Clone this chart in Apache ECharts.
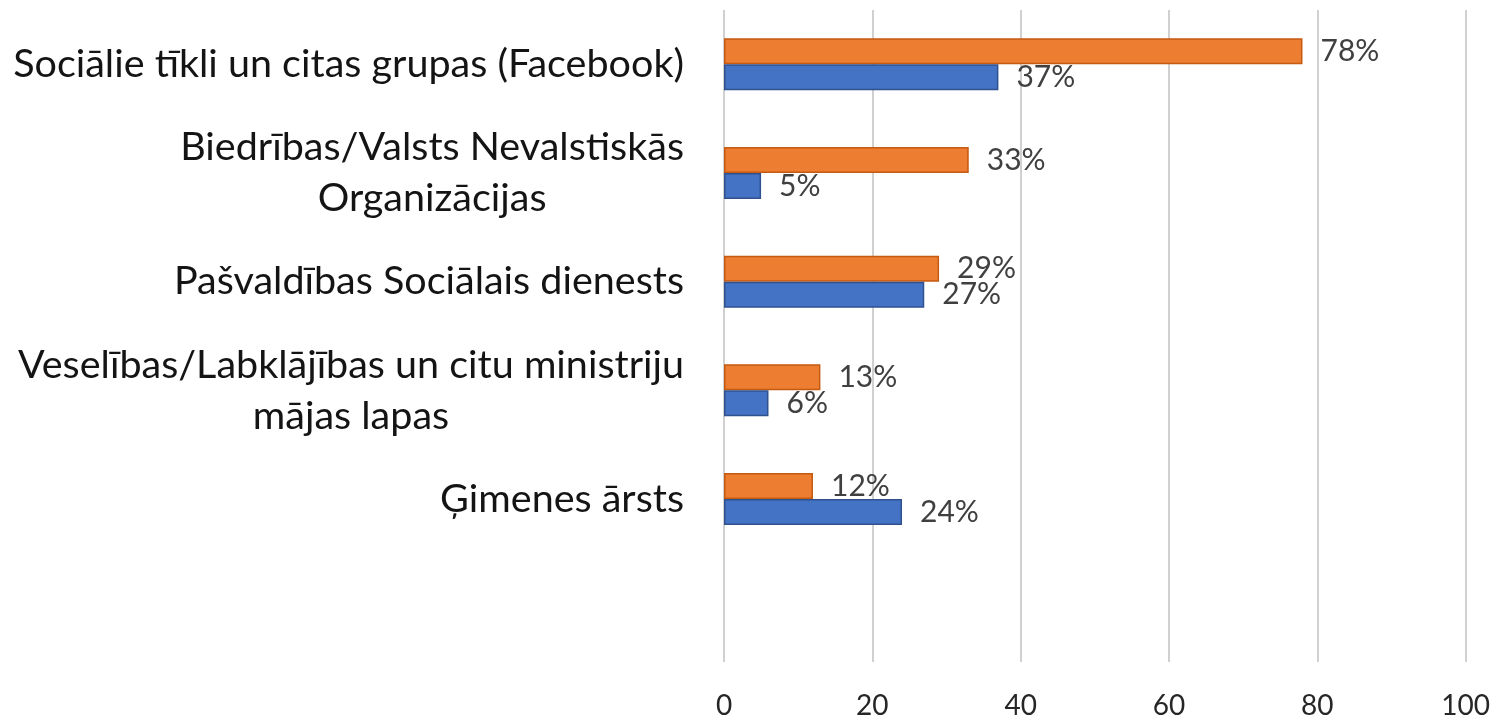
<!DOCTYPE html>
<html>
<head>
<meta charset="utf-8">
<script src="https://cdn.jsdelivr.net/npm/echarts@6/dist/echarts.min.js"></script>
<style>html,body{margin:0;padding:0;background:#fff}#c{width:1493px;height:721px}</style>
</head>
<body>
<div id="c"></div>
<script>
const categories = [
  "Sociālie tīkli un citas grupas (Facebook)",
  "Biedrības/Valsts Nevalstiskās\nOrganizācijas",
  "Pašvaldības Sociālais dienests",
  "Veselības/Labklājības un citu ministriju\nmājas lapas",
  "Ģimenes ārsts",
  ""
];
const orangeValues = [78, 33, 29, 13, 12, null];
const blueValues = [37, 5, 27, 6, 24, null];
const xTicks = [0, 20, 40, 60, 80, 100];

const chart = echarts.init(document.getElementById('c'), null, {renderer: 'canvas'});
const FONT = 'Lato';
chart.setOption({
  animation: false,
  grid: {left: 724, right: 26, top: 10, bottom: 59, containLabel: false},
  xAxis: {
    type: 'value', min: xTicks[0], max: xTicks[xTicks.length - 1], interval: 20,
    axisLine: {show: false}, axisTick: {show: false},
    splitLine: {show: true, lineStyle: {color: '#d0d0d0', width: 2}},
    axisLabel: {fontFamily: FONT, fontSize: 28, color: '#262626', margin: 30}
  },
  yAxis: {
    type: 'category', data: categories, inverse: true,
    axisLine: {show: false}, axisTick: {show: false},
    axisLabel: {
      margin: 40, color: '#141414', fontFamily: FONT, fontSize: 39.5, lineHeight: 51,
      formatter: function (v) {
        if (!v) return '';
        return v.split('\n').map(function (l) { return '{c|' + l + '}'; }).join('\n');
      },
      rich: {c: {align: 'center', fontFamily: FONT, fontSize: 39.5, lineHeight: 51, color: '#141414'}}
    }
  },
  series: [
    {
      type: 'bar', data: orangeValues, barWidth: 26, barGap: '0%',
      itemStyle: {color: '#ED7D31', borderColor: '#C55A11', borderWidth: 1.5},
      label: {show: true, position: 'right', distance: 18, formatter: '{c}%', fontFamily: FONT, fontSize: 30, color: '#404040'}
    },
    {
      type: 'bar', data: blueValues, barWidth: 26, barGap: '0%',
      itemStyle: {color: '#4472C4', borderColor: '#2F528F', borderWidth: 1.5},
      label: {show: true, position: 'right', distance: 18, formatter: '{c}%', fontFamily: FONT, fontSize: 30, color: '#404040'}
    }
  ]
});
</script>
</body>
</html>
